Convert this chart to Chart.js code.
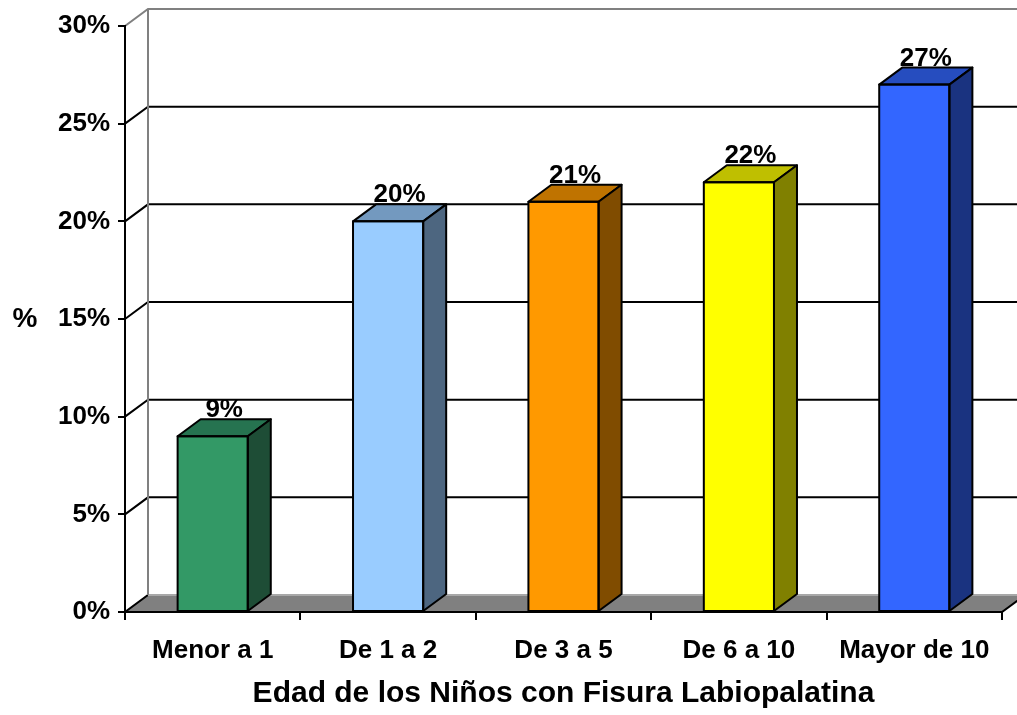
<!DOCTYPE html>
<html>
<head>
<meta charset="utf-8">
<script src="https://cdn.jsdelivr.net/npm/chart.js@4"></script>
<style>
  html, body { margin: 0; padding: 0; background: #fff; }
  canvas { display: block; }
</style>
</head>
<body>
<canvas id="chart" width="1017" height="715"></canvas>
<script>
const categories = ['Menor a 1', 'De 1 a 2', 'De 3 a 5', 'De 6 a 10', 'Mayor de 10'];
const percentages = [9, 20, 21, 22, 27];
const frontColors = ['#339966', '#99CCFF', '#FF9900', '#FFFF00', '#3366FF'];
const topColors = ['#267350', '#7399BF', '#BF7300', '#BFBF00', '#264DBF'];
const sideColors = ['#1E4D36', '#4D6680', '#804C00', '#808000', '#1A3380'];
const yMax = 30;
const yStep = 5;
const xTitle = 'Edad de los Niños con Fisura Labiopalatina';
const yTitle = '%';

// depth of the 3d walls / bars, in pixels
const DX = 23;
const DY = 17;

Chart.defaults.font.family = '"Liberation Sans", Arial, sans-serif';
Chart.defaults.font.weight = 'bold';
Chart.defaults.color = '#000';

function poly(ctx, pts, fill) {
    ctx.beginPath();
    ctx.moveTo(pts[0][0], pts[0][1]);
    for (let i = 1; i < pts.length; i++) ctx.lineTo(pts[i][0], pts[i][1]);
    ctx.closePath();
    ctx.fillStyle = fill;
    ctx.fill();
    ctx.stroke();
}

const depthPlugin = {
    id: 'depth',
    beforeDraw(chart) {
        const { ctx, chartArea: a, scales: { y } } = chart;
        ctx.save();
        ctx.lineWidth = 2;

        // floor
        ctx.strokeStyle = '#000';
        poly(ctx, [[a.left, a.bottom], [a.right, a.bottom], [a.right + DX, a.bottom - DY], [a.left + DX, a.bottom - DY]], '#808080');
        ctx.strokeStyle = '#A8A8A8';
        ctx.beginPath();
        ctx.moveTo(a.left + DX, a.bottom - DY);
        ctx.lineTo(a.right + DX, a.bottom - DY);
        ctx.stroke();

        // gridlines on the side wall and back wall
        y.ticks.forEach(t => {
            if (t.value === 0) return;
            const py = y.getPixelForValue(t.value);
            ctx.strokeStyle = t.value === yMax ? '#808080' : '#000';
            ctx.beginPath();
            ctx.moveTo(a.left, py);
            ctx.lineTo(a.left + DX, py - DY);
            ctx.lineTo(a.right + DX, py - DY);
            ctx.stroke();
        });

        // back wall corner
        ctx.strokeStyle = '#808080';
        ctx.beginPath();
        ctx.moveTo(a.left + DX, a.top - DY);
        ctx.lineTo(a.left + DX, a.bottom - DY);
        ctx.stroke();

        // y title, horizontal like the original
        ctx.fillStyle = '#000';
        ctx.font = 'bold 28px "Liberation Sans", Arial, sans-serif';
        ctx.textAlign = 'center';
        ctx.textBaseline = 'middle';
        ctx.fillText(yTitle, 25, (a.top + a.bottom) / 2);
        ctx.restore();
    },
    afterDatasetsDraw(chart) {
        const { ctx } = chart;
        const meta = chart.getDatasetMeta(0);
        ctx.save();
        ctx.lineWidth = 2;
        ctx.lineJoin = 'round';
        ctx.strokeStyle = '#000';
        meta.data.forEach((bar, i) => {
            const l = bar.x - bar.width / 2;
            const r = bar.x + bar.width / 2;
            const t = bar.y;
            const b = bar.base;
            poly(ctx, [[l, t], [l + DX, t - DY], [r + DX, t - DY], [r, t]], topColors[i]);
            poly(ctx, [[r, t], [r + DX, t - DY], [r + DX, b - DY], [r, b]], sideColors[i]);
            ctx.strokeRect(l, t, r - l, b - t);

            ctx.fillStyle = '#000';
            ctx.font = 'bold 26px "Liberation Sans", Arial, sans-serif';
            ctx.textAlign = 'center';
            ctx.textBaseline = 'alphabetic';
            ctx.fillText(percentages[i] + '%', bar.x + DX / 2, t - DY - 2);
        });
        ctx.restore();
    }
};

new Chart(document.getElementById('chart'), {
    type: 'bar',
    data: {
        labels: categories,
        datasets: [{
            data: percentages,
            backgroundColor: frontColors,
            borderColor: '#000',
            borderWidth: 0,
            barPercentage: 0.4,
            categoryPercentage: 1
        }]
    },
    options: {
        responsive: false,
        animation: false,
        layout: { padding: { top: 26, right: 15, left: 0, bottom: 0 } },
        plugins: {
            legend: { display: false },
            tooltip: { enabled: false }
        },
        scales: {
            x: {
                grid: { drawOnChartArea: false, color: '#000', lineWidth: 2, tickLength: 8, offset: true },
                border: { color: '#000', width: 2 },
                ticks: { font: { size: 26, weight: 'bold' }, padding: 15, maxRotation: 0, autoSkip: false },
                title: {
                    display: true,
                    text: xTitle,
                    font: { size: 30, weight: 'bold' },
                    padding: { top: 0, bottom: 3 }
                },
                afterFit(scale) { scale.height = 103; }
            },
            y: {
                min: 0,
                max: yMax,
                ticks: { stepSize: yStep, callback: v => v + '%', font: { size: 26, weight: 'bold' }, padding: 8 },
                grid: { drawOnChartArea: false, color: '#000', lineWidth: 2, tickLength: 7 },
                border: { color: '#000', width: 2 },
                afterFit(scale) { scale.width = 125; }
            }
        }
    },
    plugins: [depthPlugin]
});
</script>
</body>
</html>
